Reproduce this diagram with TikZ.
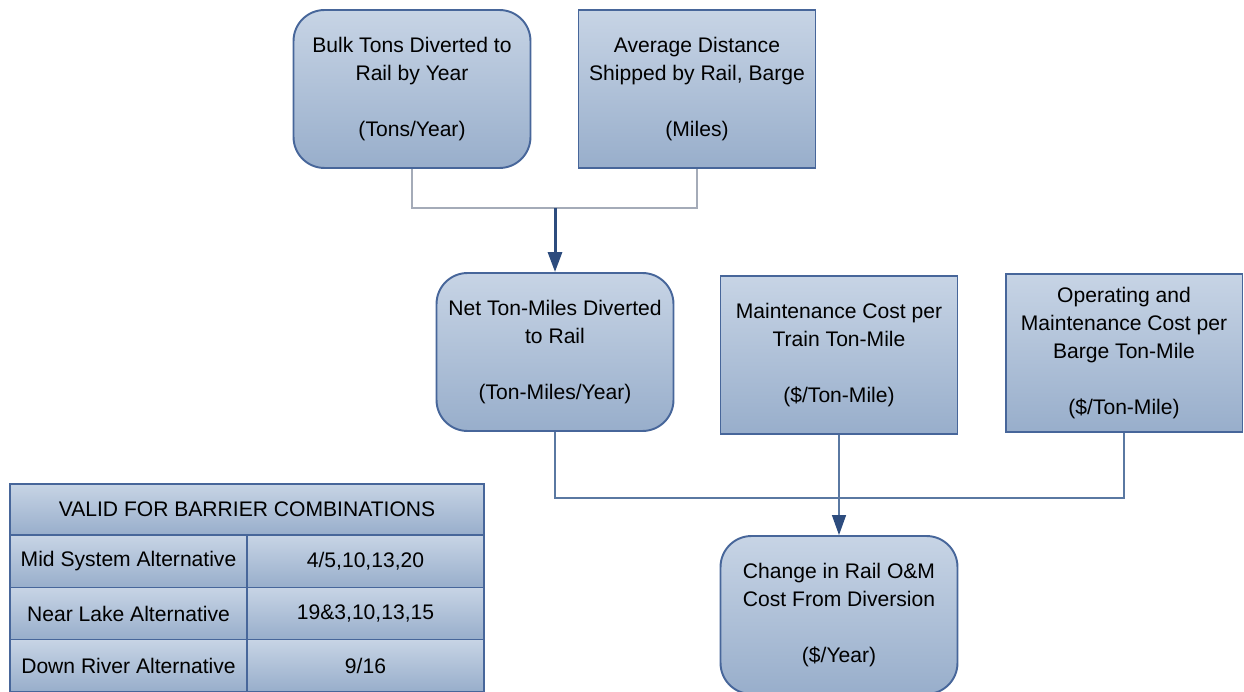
\documentclass[tikz,border=0pt]{standalone}
\usepackage{fontspec}
\setmainfont{Liberation Sans}
\usepackage{xcolor}
\usetikzlibrary{arrows.meta, positioning, calc}

\definecolor{boxtop}{HTML}{C7D4E5}
\definecolor{boxbot}{HTML}{98AECB}
\definecolor{boxline}{HTML}{47669A}
\definecolor{linkgray}{HTML}{A4ABB8}
\definecolor{linkblue}{HTML}{5A78A2}
\definecolor{arrowblue}{HTML}{2D4C7E}

\tikzset{
    box/.style={draw=boxline, line width=1.1pt, top color=boxtop, bottom color=boxbot,
        minimum width=4.74cm, minimum height=3.16cm, align=center,
        font=\fontsize{12}{16}\selectfont, inner sep=2pt},
    rbox/.style={box, rounded corners=0.62cm},
    cell/.style={draw=boxline, line width=1.1pt, top color=boxtop, bottom color=boxbot,
        minimum width=4.74cm, minimum height=1.04cm, inner sep=0pt, outer sep=0pt,
        font=\fontsize{12}{14}\selectfont},
    link/.style={line width=1.1pt},
    tip/.style={-{Triangle[width=0.28cm,length=0.4cm,color=arrowblue]}}
}

\begin{document}
\begin{tikzpicture}[x=0.02cm,y=0.02cm]

    \useasboundingbox (0,0) rectangle (1244,-692);

    %--------------------------------
    % top row
    %--------------------------------
    \node[rbox] (bulk) at (412,-89)
        {Bulk Tons Diverted to\\Rail by Year\\ \\(Tons/Year)};
    \node[box] (dist) at (697,-89)
        {Average Distance\\Shipped by Rail, Barge\\ \\(Miles)};

    %--------------------------------
    % middle row
    %--------------------------------
    \node[rbox] (net) at (555,-352)
        {Net Ton-Miles Diverted\\to Rail\\ \\(Ton-Miles/Year)};
    \node[box] (maint) at (839,-355)
        {Maintenance Cost per\\Train Ton-Mile\\ \\(\$/Ton-Mile)};
    \node[box] (ops) at (1124,-353)
        {Operating and\\Maintenance Cost per\\Barge Ton-Mile\\ \\(\$/Ton-Mile)};

    %--------------------------------
    % result
    %--------------------------------
    \node[rbox] (change) at (839,-615)
        {Change in Rail O\&M\\Cost From Diversion\\ \\(\$/Year)};

    %--------------------------------
    % connectors
    %--------------------------------
    \coordinate (j1) at (net.north |- 0,-208);
    \coordinate (j2) at (ops.south |- 0,-498);

    \draw[link, linkgray] (bulk.south) |- (j1) -| (dist.south);
    \draw[line width=1.7pt, arrowblue, tip] (j1) -- (net.north);

    \draw[link, linkblue] (net.south) |- (j2) -- (ops.south);
    \draw[line width=0.8pt, linkblue, tip] (maint.south) -- (change.north);

    %--------------------------------
    % table of barrier combinations
    %--------------------------------
    \node[cell, minimum width=9.48cm, minimum height=1.02cm] (head) at (247,-509.5)
        {VALID FOR BARRIER COMBINATIONS};

    \foreach \r/\lab/\val in {
        1/{Mid System Alternative}/{4/5,10,13,20},
        2/{Near Lake Alternative}/{19\&3,10,13,15},
        3/{Down River Alternative}/{9/16}}{
        \node[cell] (alt\r) at (128.5,-509.5-52*\r) {\lab};
        \node[cell] (val\r) at (365.5,-509.5-52*\r) {\val};
    }

\end{tikzpicture}
\end{document}
